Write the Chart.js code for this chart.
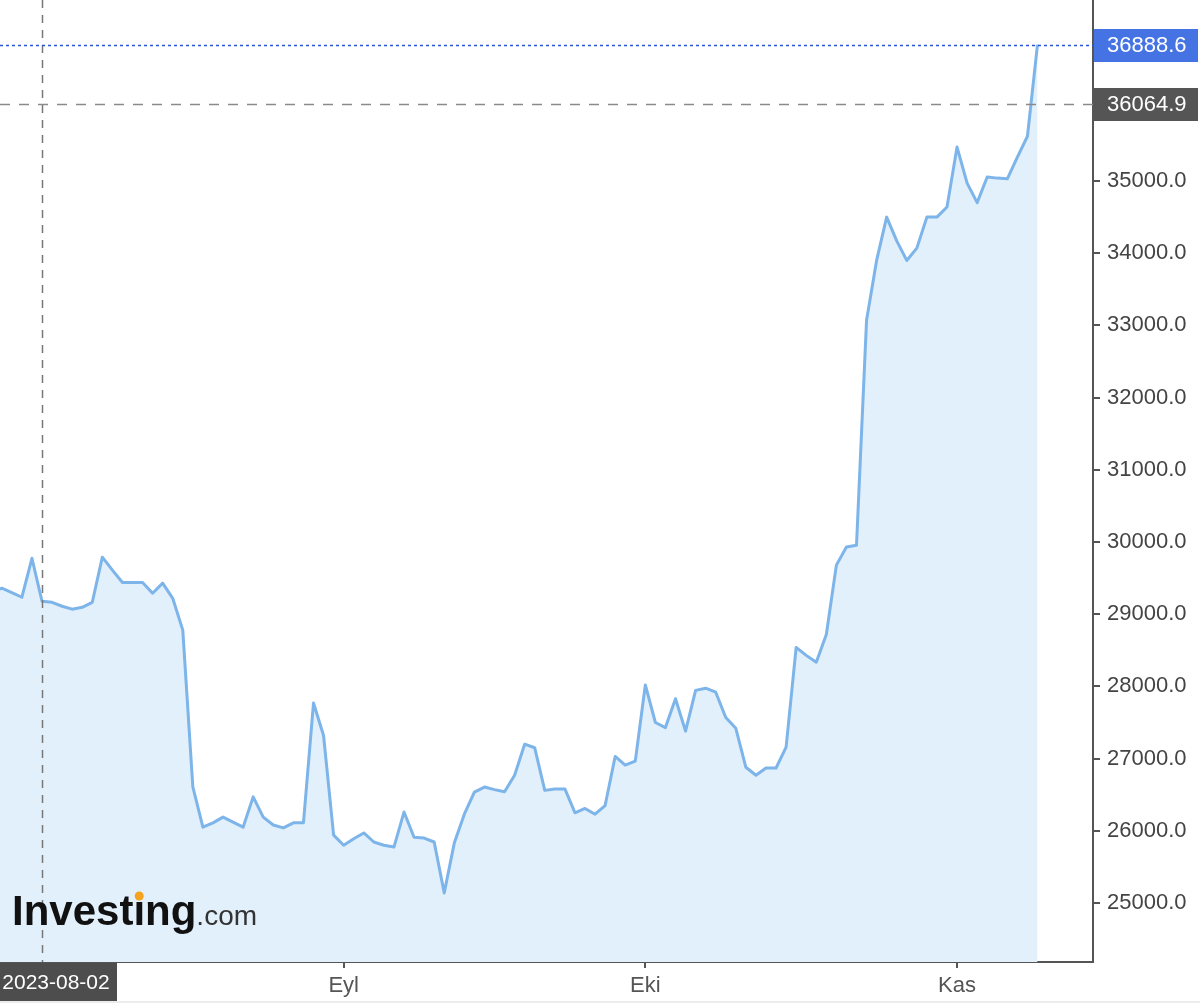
<!DOCTYPE html>
<html>
<head>
<meta charset="utf-8">
<script src="https://cdn.jsdelivr.net/npm/chart.js@4"></script>
<style>
  html, body { margin: 0; padding: 0; background: #fff; }
  #wrap { width: 1200px; height: 1003px; position: relative; }
</style>
</head>
<body>
<div id="wrap"><canvas id="priceChart"></canvas></div>
<script>
// günlük kapanışlar, 2023-07-28 .. 2023-11-09 (gün indeksi 0 = 28 Temmuz)
const julyCloses = [29310, 29360, 29300, 29235];
const augCloses = [29775, 29180, 29165, 29110, 29070, 29095, 29165, 29790, 29610, 29440,
    29440, 29440, 29290, 29430, 29220, 28780, 26610, 26050, 26110, 26190,
    26120, 26050, 26470, 26190, 26080, 26040, 26110, 26110, 27770, 27320, 25940];
const sepCloses = [25800, 25890, 25970, 25845, 25800, 25775, 26260, 25910, 25900, 25845,
    25140, 25830, 26230, 26537, 26606, 26570, 26540, 26770, 27200, 27150,
    26560, 26580, 26580, 26250, 26310, 26230, 26350, 27030, 26910, 26965];
const octCloses = [28020, 27500, 27430, 27830, 27380, 27945, 27975, 27920, 27570, 27420,
    26880, 26770, 26870, 26870, 27160, 28540, 28430, 28335, 28720, 29680,
    29930, 29955, 33070, 33900, 34500, 34170, 33900, 34070, 34500, 34500, 34640];
const novCloses = [35470, 34970, 34700, 35055, 35040, 35030, 35330, 35620, 36888.6];

const closes = [...julyCloses, ...augCloses, ...sepCloses, ...octCloses, ...novCloses];

const xTickDays = [35, 65, 96];           // 1 Eylül, 1 Ekim, 1 Kasım
const xTickLabels = ['Eyl', 'Eki', 'Kas'];
const yTicks = [25000, 26000, 27000, 28000, 29000, 30000, 31000, 32000, 33000, 34000, 35000];

const crosshairDay = 5;                   // 2023-08-02
const crosshairLabel = '2023-08-02';
const lastPrice = 36888.6;
const prevClose = 36064.9;

const FONT = '"Liberation Sans", Arial, sans-serif';

const overlays = {
    id: 'overlays',
    afterDatasetsDraw(chart) {
        const { ctx, chartArea, scales: { x, y } } = chart;
        ctx.save();
        // dikey crosshair
        const cx = Math.round(x.getPixelForValue(crosshairDay)) + 0.5;
        ctx.strokeStyle = '#777';
        ctx.lineWidth = 1.5;
        ctx.setLineDash([8, 7]);
        ctx.beginPath();
        ctx.moveTo(cx, chartArea.top);
        ctx.lineTo(cx, chartArea.bottom);
        ctx.stroke();

        // önceki kapanış çizgisi
        const py = Math.round(y.getPixelForValue(prevClose)) + 0.5;
        ctx.strokeStyle = '#8a8a8a';
        ctx.setLineDash([10, 9]);
        ctx.beginPath();
        ctx.moveTo(chartArea.left, py);
        ctx.lineTo(chartArea.right, py);
        ctx.stroke();

        // son fiyat çizgisi
        const ly = Math.round(y.getPixelForValue(lastPrice)) + 0.5;
        ctx.strokeStyle = '#2a55d6';
        ctx.lineWidth = 1.5;
        ctx.setLineDash([3, 3]);
        ctx.beginPath();
        ctx.moveTo(chartArea.left, ly);
        ctx.lineTo(chartArea.right, ly);
        ctx.stroke();
        ctx.setLineDash([]);

        // logo
        ctx.textBaseline = 'alphabetic';
        ctx.textAlign = 'left';
        ctx.font = 'bold 42px ' + FONT;
        ctx.fillStyle = '#111';
        const word = 'Investıng';
        ctx.fillText(word, 12, 925);
        const wWord = ctx.measureText(word).width;
        const wPre = ctx.measureText('Invest').width;
        const wI = ctx.measureText('ı').width;
        ctx.fillStyle = '#f5a21e';
        ctx.beginPath();
        ctx.arc(12 + wPre + wI / 2, 925 - 29, 4.5, 0, Math.PI * 2);
        ctx.fill();
        ctx.font = '28px ' + FONT;
        ctx.fillStyle = '#333';
        ctx.fillText('.com', 12 + wWord, 925);
        ctx.restore();
    },
    afterDraw(chart) {
        const { ctx, scales: { y } } = chart;
        ctx.save();
        ctx.font = '22px ' + FONT;
        ctx.textBaseline = 'middle';
        ctx.textAlign = 'left';

        const boxes = [
            { v: lastPrice, bg: '#4673e3' },
            { v: prevClose, bg: '#555555' }
        ];
        boxes.forEach(b => {
            const by = y.getPixelForValue(b.v);
            ctx.fillStyle = b.bg;
            ctx.fillRect(1094, Math.round(by) - 16, 104, 33);
            ctx.fillStyle = '#fff';
            ctx.fillText(b.v.toFixed(1), 1107, by + 1);
        });

        // tarih etiketi
        ctx.fillStyle = '#4d4d4d';
        ctx.fillRect(0, 963, 117, 38);
        ctx.fillStyle = '#fff';
        ctx.font = '21px ' + FONT;
        ctx.textAlign = 'center';
        ctx.fillText(crosshairLabel, 56, 983);

        // alt kenar şeridi
        ctx.fillStyle = '#ececec';
        ctx.fillRect(0, 1001, 1200, 2);
        ctx.restore();
    }
};

const ctx = document.getElementById('priceChart').getContext('2d');
new Chart(ctx, {
    type: 'line',
    data: {
        datasets: [{
            data: closes.map((v, i) => ({ x: i, y: v })),
            borderColor: '#7db4e9',
            backgroundColor: '#e1f0fb',
            borderWidth: 3,
            fill: 'start',
            tension: 0,
            pointRadius: 0,
            borderJoinStyle: 'round'
        }]
    },
    options: {
        responsive: true,
        maintainAspectRatio: false,
        animation: false,
        layout: { padding: 0 },
        plugins: {
            legend: { display: false },
            tooltip: { enabled: false }
        },
        scales: {
            x: {
                type: 'linear',
                position: 'bottom',
                min: 0.823,
                max: 109.52,
                afterFit: s => { s.height = 41; s.paddingLeft = 0; s.paddingRight = 0; },
                afterBuildTicks: s => { s.ticks = xTickDays.map(v => ({ value: v })); },
                ticks: {
                    autoSkip: false,
                    maxRotation: 0,
                    padding: 5,
                    color: '#555',
                    font: { family: FONT, size: 22 },
                    callback: v => xTickLabels[xTickDays.indexOf(v)]
                },
                grid: { drawOnChartArea: false, drawTicks: true, tickLength: 6, color: '#555', lineWidth: 2 },
                border: { display: true, color: '#555', width: 2 }
            },
            y: {
                position: 'right',
                min: 24183,
                max: 37507,
                afterFit: s => { s.width = 107; s.paddingTop = 0; s.paddingBottom = 0; },
                afterBuildTicks: s => { s.ticks = yTicks.map(v => ({ value: v })); },
                ticks: {
                    padding: 7,
                    crossAlign: 'near',
                    color: '#444',
                    font: { family: FONT, size: 22 },
                    callback: v => v.toFixed(1)
                },
                grid: { drawOnChartArea: false, drawTicks: true, tickLength: 7, color: '#555', lineWidth: 2 },
                border: { display: true, color: '#555', width: 2 }
            }
        }
    },
    plugins: [overlays]
});
</script>
</body>
</html>
